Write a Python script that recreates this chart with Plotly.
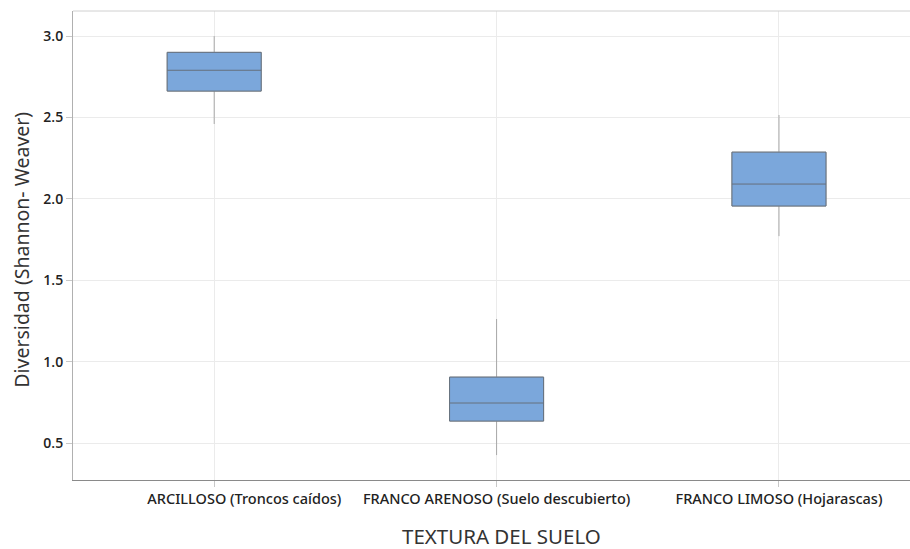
import plotly.graph_objects as go

categories = ["ARCILLOSO (Troncos caídos)", "FRANCO ARENOSO (Suelo descubierto)", "FRANCO LIMOSO (Hojarascas)"]
q1 = [2.662, 0.635, 1.956]
median = [2.79, 0.746, 2.091]
q3 = [2.90, 0.905, 2.287]
lower = [2.46, 0.426, 1.771]
upper = [3.00, 1.262, 2.515]
ytickvals = [0.5, 1.0, 1.5, 2.0, 2.5, 3.0]
yticktext = ["0.5", "1.0", "1.5", "2.0", "2.5", "3.0"]
xticktext = ["\u00a0" * 16 + categories[0], categories[1], categories[2]]
xtitle = "TEXTURA DEL SUELO"
ytitle = "Diversidad (Shannon- Weaver)"
xpos = list(range(len(categories)))

fig = go.Figure()
# whiskers (light gray)
fig.add_trace(go.Box(
    x=xpos, q1=q1, median=median, q3=q3,
    lowerfence=lower, upperfence=upper,
    width=0.333, whiskerwidth=0,
    fillcolor="rgba(0,0,0,0)",
    line=dict(color="#a8a8a8", width=1),
    boxpoints=False, hoverinfo="skip", showlegend=False,
))
# box body (dark outline, blue fill)
fig.add_trace(go.Box(
    x=xpos, q1=q1, median=median, q3=q3,
    lowerfence=q1, upperfence=q3,
    width=0.333, whiskerwidth=0,
    fillcolor="#7BA7DB",
    line=dict(color="#66707c", width=1),
    boxpoints=False, hoverinfo="skip", showlegend=False,
))

fig.update_layout(
    width=910, height=549,
    boxmode="overlay",
    margin=dict(l=73, r=0, t=11, b=69, autoexpand=False),
    paper_bgcolor="white", plot_bgcolor="white",
    font=dict(family="Noto Sans", color="#333333"),
    xaxis=dict(
        range=[-0.5, 2.464], tickvals=xpos, ticktext=xticktext,
        automargin=False,
        showgrid=True, gridcolor="#ebebeb", gridwidth=1,
        showline=True, linecolor="#8a8a8a", linewidth=1,
        ticks="outside", ticklen=6, tickcolor="#c8c8c8",
        tickfont=dict(size=14.5, family="Noto Sans", weight=500, color="#222222"),
        zeroline=False,
    ),
    yaxis=dict(
        range=[0.273, 3.154], tickvals=ytickvals, ticktext=yticktext,
        automargin=False,
        showgrid=True, gridcolor="#ebebeb", gridwidth=1,
        showline=True, linecolor="#b0b0b0", linewidth=1, mirror=False,
        ticks="outside", ticklen=6, tickcolor="#c8c8c8",
        tickfont=dict(size=14, family="Open Sans", weight=600, color="#222222"),
        zeroline=False,
    ),
    shapes=[dict(type="line", xref="paper", yref="paper", x0=0, x1=1, y0=1, y1=1,
                 line=dict(color="#d0d0d0", width=1))],
    annotations=[
        dict(text=xtitle, xref="paper", yref="paper", x=0.512, y=-0.1194,
             xanchor="center", yanchor="middle", showarrow=False,
             font=dict(size=20.5, family="Noto Sans", color="#333333")),
        dict(text=ytitle, xref="paper", yref="paper", x=-0.0615, y=0.49,
             xanchor="center", yanchor="middle", showarrow=False, textangle=-90,
             font=dict(size=19.5, family="Noto Sans", color="#333333")),
    ],
)

fig.write_html(
    "out.html",
    config={"displayModeBar": False},
    post_script="document.body.style.margin='0';document.body.style.overflow='hidden';",
)
